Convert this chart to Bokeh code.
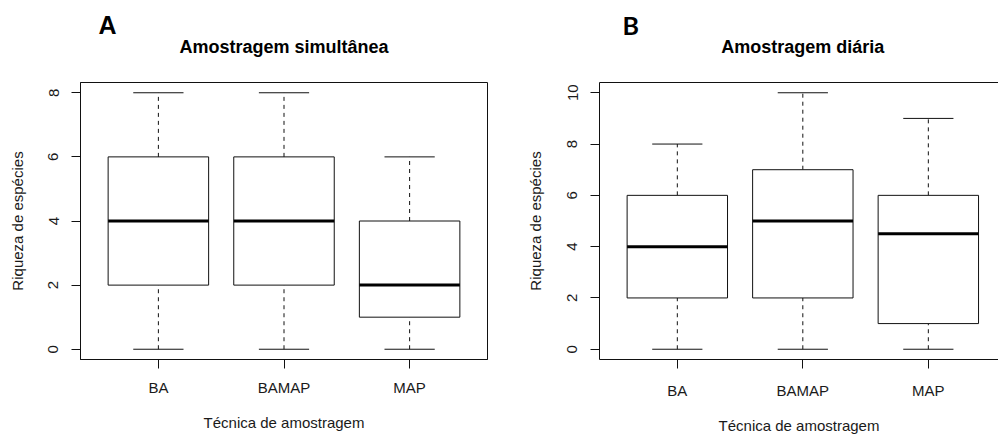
from bokeh.plotting import figure
from bokeh.layouts import row, column
from bokeh.models import FixedTicker, Label, LinearAxis, Range1d
from bokeh.embed import file_html
from bokeh.resources import INLINE
import numpy as np

categories = ["BA", "BAMAP", "MAP"]

# Panel A - Amostragem simultânea
a_min = [0, 0, 0]
a_q1 = [2, 2, 1]
a_med = [4, 4, 2]
a_q3 = [6, 6, 4]
a_max = [8, 8, 6]
a_yticks = [0, 2, 4, 6, 8]

# Panel B - Amostragem diária
b_min = [0, 0, 0]
b_q1 = [2, 2, 1]
b_med = [4, 5, 4.5]
b_q3 = [6, 7, 6]
b_max = [8, 10, 9]
b_yticks = [0, 2, 4, 6, 8, 10]

titles = ["Amostragem simultânea", "Amostragem diária"]
letters = ["A", "B"]

FONT = "Liberation Sans"
INK = "#111111"
STRIP_H = 79          # height of the title strip above both panels
PANEL_W = 499
PANEL_H = 436 - STRIP_H


def make_panel(mins, q1, med, q3, maxs, yticks, x_range, y_range, frame, tstandoffs, full_box):
    left, right, top, bottom = frame   # in page pixels relative to the panel's left edge
    top_local = top - STRIP_H
    bottom_local = bottom - STRIP_H
    p = figure(width=PANEL_W, height=PANEL_H, output_backend="svg", toolbar_location=None,
               x_range=Range1d(*x_range), y_range=Range1d(*y_range),
               min_border_left=left, min_border_right=PANEL_W - right,
               min_border_top=top_local, min_border_bottom=PANEL_H - bottom_local)
    p.grid.visible = False
    p.background_fill_color = "white"
    p.border_fill_color = "white"

    xs = np.arange(1, len(categories) + 1)
    box_half = 0.4
    cap_half = 0.2

    # whiskers (dashed)
    p.segment(x0=xs, y0=q3, x1=xs, y1=maxs, line_color=INK, line_width=1, line_dash="4 4")
    p.segment(x0=xs, y0=mins, x1=xs, y1=q1, line_color=INK, line_width=1, line_dash="4 4")
    # staples
    p.segment(x0=xs - cap_half, y0=maxs, x1=xs + cap_half, y1=maxs, line_color=INK, line_width=1)
    p.segment(x0=xs - cap_half, y0=mins, x1=xs + cap_half, y1=mins, line_color=INK, line_width=1)
    # boxes
    p.vbar(x=xs, width=2 * box_half, bottom=q1, top=q3, fill_color="white",
           line_color=INK, line_width=1)
    # medians
    p.segment(x0=xs - box_half, y0=med, x1=xs + box_half, y1=med, line_color="black",
              line_width=3, line_cap="butt")

    xl_so, xa_so, yl_so, ya_so = tstandoffs
    p.xaxis.ticker = FixedTicker(ticks=list(xs))
    p.xaxis.major_label_overrides = {int(v): c for v, c in zip(xs, categories)}
    p.yaxis.ticker = FixedTicker(ticks=yticks)
    p.xaxis.axis_label = "Técnica de amostragem"
    p.yaxis.axis_label = "Riqueza de espécies"
    p.yaxis.major_label_orientation = "vertical"
    for ax in (p.xaxis, p.yaxis):
        ax.axis_line_color = INK
        ax.major_tick_line_color = INK
        ax.major_tick_out = 9
        ax.major_tick_in = 0
        ax.minor_tick_line_color = None
        ax.major_label_text_font = FONT
        ax.major_label_text_font_size = "15px"
        ax.major_label_text_color = "#1a1a1a"
        ax.axis_label_text_font = FONT
        ax.axis_label_text_font_size = "15px"
        ax.axis_label_text_font_style = "normal"
        ax.axis_label_text_color = "#1a1a1a"
    p.xaxis.major_label_standoff = xl_so
    p.xaxis.axis_label_standoff = xa_so
    p.yaxis.major_label_standoff = yl_so
    p.yaxis.axis_label_standoff = ya_so

    if full_box:
        p.outline_line_color = INK
        p.outline_line_width = 1
        p.outline_line_alpha = 1
    else:
        # the right side of this panel is cropped in the reference: no right border
        p.outline_line_color = None
        top_axis = LinearAxis(ticker=FixedTicker(ticks=[]), axis_line_color=INK,
                              major_tick_line_color=None, minor_tick_line_color=None,
                              major_tick_out=0, major_tick_in=0, major_label_standoff=0)
        p.add_layout(top_axis, "above")
    return p


frame_a = (80, 487, 81, 362)
frame_b = (100, 499, 82, 363)
xr_a, yr_a = (0.38, 3.62), (-0.32, 8.32)
xr_b, yr_b = (0.38, 3.559), (-0.4, 10.4)

pa = make_panel(a_min, a_q1, a_med, a_q3, a_max, a_yticks, xr_a, yr_a, frame_a,
                (10, 15, 13, 20), True)
pb = make_panel(b_min, b_q1, b_med, b_q3, b_max, b_yticks, xr_b, yr_b, frame_b,
                (13, 15, 13, 21), False)

# title strip (pixel coordinate space, y downwards)
strip = figure(width=2 * PANEL_W, height=STRIP_H, output_backend="svg", toolbar_location=None,
               x_range=Range1d(0, 2 * PANEL_W), y_range=Range1d(STRIP_H, 0),
               min_border=0, min_border_left=0, min_border_right=0,
               min_border_top=0, min_border_bottom=0)
strip.axis.visible = False
strip.grid.visible = False
strip.outline_line_color = None
strip.background_fill_color = "white"
strip.border_fill_color = "white"


def center_of(frame, xr, offset):
    left, right = frame[0], frame[1]
    mid = (len(categories) + 1) / 2
    return offset + left + (mid - xr[0]) * (right - left) / (xr[1] - xr[0])


tx = [center_of(frame_a, xr_a, 0), center_of(frame_b, xr_b, PANEL_W)]
letter_x = [98, 622]
letter_font = [FONT, "Lato"]
for t, cx, lt, lx, lf in zip(titles, tx, letters, letter_x, letter_font):
    strip.add_layout(Label(x=cx, y=46, text=t, text_align="center",
                           text_baseline="middle", text_font=FONT, text_font_style="bold",
                           text_font_size="18px", text_color="black"))
    strip.add_layout(Label(x=lx, y=24.2, text=lt, text_align="left",
                           text_baseline="middle", text_font=lf, text_font_style="bold",
                           text_font_size="25px", text_color="black"))

layout = column(strip, row(pa, pb, spacing=0), spacing=0)
open("out.html", "w").write(file_html(layout, INLINE))
